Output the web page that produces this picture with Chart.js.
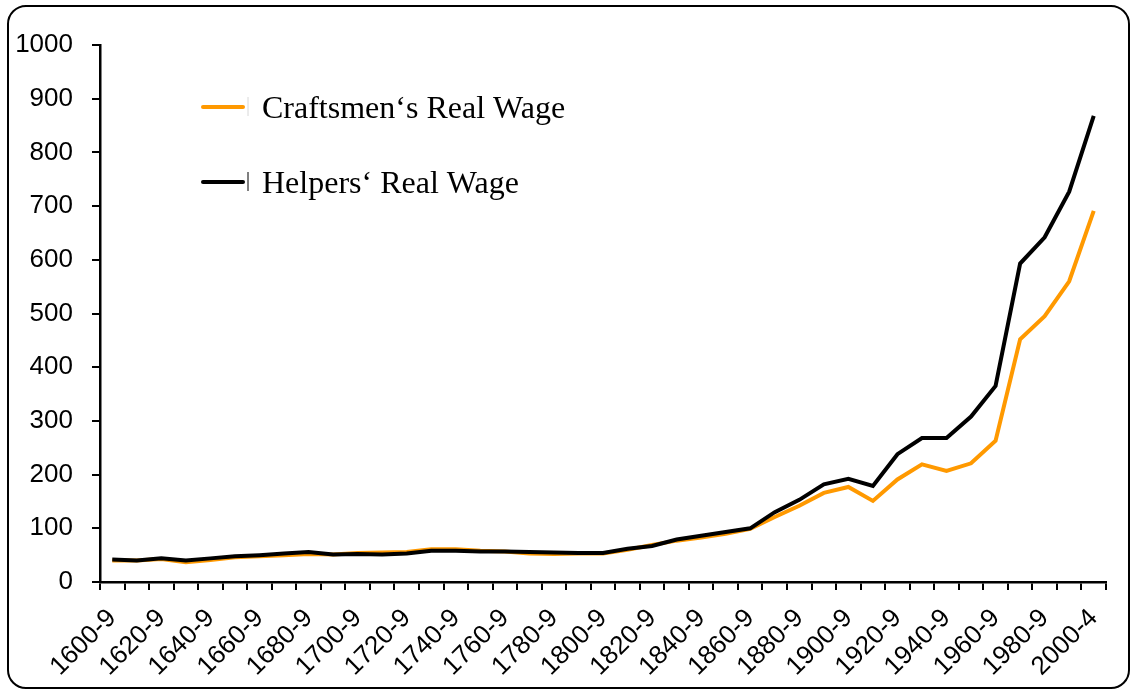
<!DOCTYPE html>
<html>
<head>
<meta charset="utf-8">
<script src="https://cdn.jsdelivr.net/npm/chart.js@4.4.1/dist/chart.umd.min.js"></script>
<style>
  html, body { margin: 0; padding: 0; background: #fff; }
  #wrap { position: relative; width: 1132px; height: 691px; }
  canvas { display: block; }
</style>
</head>
<body>
<div id="wrap"><canvas id="c" width="1132" height="691"></canvas></div>
<script>
const categories = [
  "1600-9","1610-9","1620-9","1630-9","1640-9","1650-9","1660-9","1670-9","1680-9","1690-9",
  "1700-9","1710-9","1720-9","1730-9","1740-9","1750-9","1760-9","1770-9","1780-9","1790-9",
  "1800-9","1810-9","1820-9","1830-9","1840-9","1850-9","1860-9","1870-9","1880-9","1890-9",
  "1900-9","1910-9","1920-9","1930-9","1940-9","1950-9","1960-9","1970-9","1980-9","1990-9",
  "2000-4"
];
const craftsmenWage = [
  40, 40, 43, 37, 41, 46, 48, 50, 52, 51,
  54, 55, 56, 61, 61, 58, 57, 53, 52, 53,
  53, 60, 69, 77, 83, 90, 99, 121, 142, 166,
  177, 151, 191, 219, 207, 221, 263, 452, 495, 560,
  691
];
const helpersWage = [
  42, 40, 44, 40, 44, 48, 50, 53, 56, 51,
  52, 51, 53, 58, 58, 57, 57, 56, 55, 54,
  54, 62, 67, 79, 86, 93, 100, 130, 153, 182,
  192, 179, 238, 268, 268, 308, 365, 593, 642, 727,
  868
];
const yMin = 0, yMax = 1000, yStep = 100;
const seriesNames = ["Craftsmen\u2018s Real Wage", "Helpers\u2018 Real Wage"];
const seriesColors = ["#FF9900", "#000000"];

const framePlugin = {
  id: 'frame',
  beforeDraw(chart) {
    const ctx = chart.ctx;
    ctx.save();
    ctx.fillStyle = '#fff';
    ctx.fillRect(0, 0, chart.width, chart.height);
    const x = 8, y = 6, w = 1121, h = 682, r = 18;
    ctx.beginPath();
    ctx.moveTo(x + r, y);
    ctx.lineTo(x + w - r, y);
    ctx.arcTo(x + w, y, x + w, y + r, r);
    ctx.lineTo(x + w, y + h - r);
    ctx.arcTo(x + w, y + h, x + w - r, y + h, r);
    ctx.lineTo(x + r, y + h);
    ctx.arcTo(x, y + h, x, y + h - r, r);
    ctx.lineTo(x, y + r);
    ctx.arcTo(x, y, x + r, y, r);
    ctx.closePath();
    ctx.lineWidth = 2;
    ctx.strokeStyle = '#000';
    ctx.stroke();
    ctx.restore();
  }
};

const legendPlugin = {
  id: 'innerLegend',
  afterDraw(chart) {
    const ctx = chart.ctx;
    ctx.save();
    const rows = [107, 182];
    chart.data.datasets.forEach((ds, i) => {
      const yy = rows[i];
      ctx.beginPath();
      ctx.moveTo(203, yy);
      ctx.lineTo(243, yy);
      ctx.lineWidth = 4;
      ctx.lineCap = 'round';
      ctx.strokeStyle = ds.borderColor;
      ctx.stroke();
      ctx.beginPath();
      ctx.moveTo(248, yy - 10);
      ctx.lineTo(248, yy + 9);
      ctx.lineWidth = 1;
      ctx.lineCap = 'butt';
      ctx.strokeStyle = i === 0 ? '#d8d8d8' : '#000';
      ctx.stroke();
      ctx.fillStyle = '#000';
      ctx.font = "32px 'Liberation Serif'";
      ctx.textBaseline = 'middle';
      ctx.textAlign = 'left';
      ctx.fillText(ds.label, 262, yy + 3);
    });
    ctx.restore();
  }
};

new Chart(document.getElementById('c'), {
  type: 'line',
  data: {
    labels: categories,
    datasets: [
      {
        label: seriesNames[0],
        data: craftsmenWage,
        borderColor: seriesColors[0],
        backgroundColor: seriesColors[0],
        borderWidth: 4,
        pointRadius: 0,
        tension: 0,
        order: 1
      },
      {
        label: seriesNames[1],
        data: helpersWage,
        borderColor: seriesColors[1],
        backgroundColor: seriesColors[1],
        borderWidth: 4,
        pointRadius: 0,
        tension: 0,
        order: 0
      }
    ]
  },
  options: {
    responsive: false,
    devicePixelRatio: 1,
    animation: false,
    layout: { padding: { left: 0, top: 45, right: 26, bottom: 0 } },
    plugins: {
      legend: { display: false },
      tooltip: { enabled: false }
    },
    scales: {
      x: {
        type: 'category',
        offset: true,
        grid: {
          display: true,
          offset: true,
          drawOnChartArea: false,
          drawTicks: true,
          tickLength: 8,
          color: '#000',
          lineWidth: 2
        },
        border: { display: true, color: '#000', width: 2.5 },
        ticks: {
          autoSkip: false,
          maxRotation: 45,
          minRotation: 45,
          padding: 13,
          color: '#000',
          font: { family: "'Liberation Sans', Arial, sans-serif", size: 26 },
          callback: function(value, index) {
            return index % 2 === 0 ? categories[index] : '';
          }
        },
        afterFit: function(scale) { scale.height = 109; }
      },
      y: {
        min: yMin,
        max: yMax,
        grid: {
          display: true,
          drawOnChartArea: false,
          drawTicks: true,
          tickLength: 8,
          color: '#000',
          lineWidth: 2
        },
        border: { display: true, color: '#000', width: 2.5 },
        ticks: {
          stepSize: yStep,
          padding: 19,
          color: '#000',
          font: { family: "'Liberation Sans', Arial, sans-serif", size: 26 },
          callback: function(value) { return String(value); }
        },
        afterFit: function(scale) { scale.width = 100; }
      }
    }
  },
  plugins: [framePlugin, legendPlugin]
});
</script>
</body>
</html>
